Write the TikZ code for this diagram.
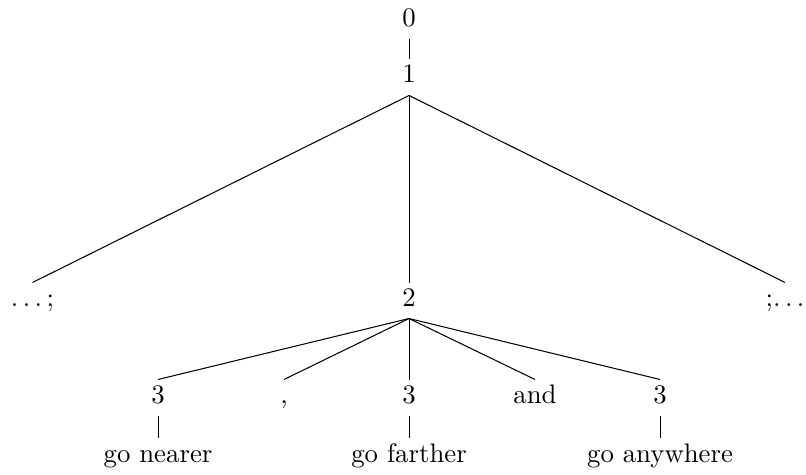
\documentclass[tikz,border=0pt]{standalone}
\usetikzlibrary{positioning}
\newcommand{\spdots}{.\kern.1667em.\kern.1667em.}
\begin{document}
\begin{tikzpicture}[
	word/.style={anchor=base, inner sep=2pt, text height=6.85pt, text depth=2.6pt, font=\fontsize{10.3}{12.4}\selectfont},
	branch/.style={draw=black, line width=0.4pt}
]
\useasboundingbox (0,0) rectangle (10.895,-6.408);
\node (zero) [word] at (5.529,-0.365) {0};
\node (one) [word] at (5.529,-1.122) {1};
\node (dotsL) [word] at (0.439,-4.137) {\spdots\kern.1667em;};
\node (two) [word] at (5.529,-4.137) {2};
\node (dotsR) [word] at (10.612,-4.137) {;\spdots};
\node (threeA) [word] at (2.136,-5.448) {3};
\node (comma) [word] at (3.839,-5.448) {,};
\node (threeB) [word] at (5.529,-5.448) {3};
\node (conj) [word] at (7.232,-5.448) {and};
\node (threeC) [word] at (8.922,-5.448) {3};
\node (nearer) [word] at (2.136,-6.245) {go nearer};
\node (farther) [word] at (5.529,-6.245) {go farther};
\node (anywhere) [word] at (8.922,-6.245) {go anywhere};
\draw [branch] (zero.south) -- (one.north);
\draw [branch] (one.south) -- (dotsL.north);
\draw [branch] (one.south) -- (two.north);
\draw [branch] (one.south) -- (dotsR.north);
\draw [branch] (two.south) -- (threeA.north);
\draw [branch] (two.south) -- (comma.north);
\draw [branch] (two.south) -- (threeB.north);
\draw [branch] (two.south) -- (conj.north);
\draw [branch] (two.south) -- (threeC.north);
\draw [branch] (threeA.south) -- (nearer.north);
\draw [branch] (threeB.south) -- (farther.north);
\draw [branch] (threeC.south) -- (anywhere.north);
\end{tikzpicture}
\end{document}
